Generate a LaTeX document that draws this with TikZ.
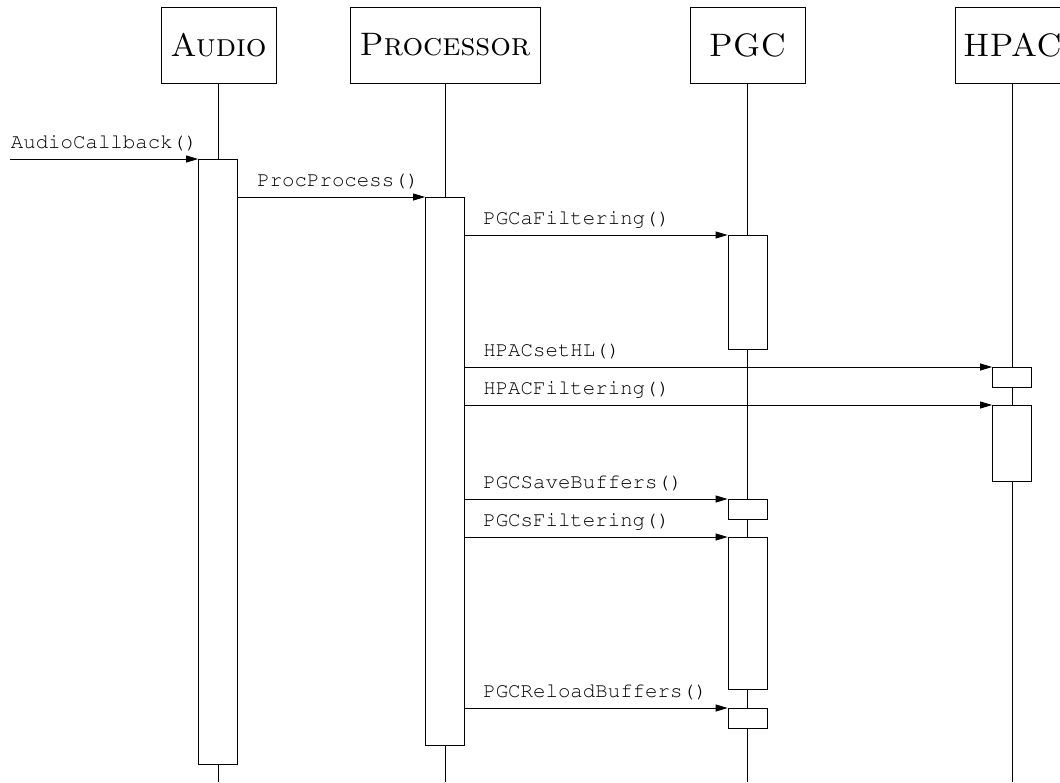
\documentclass[tikz,border=0pt]{standalone}
\usepackage[T1,TU]{fontenc}
\usepackage{fontspec}
\newcommand{\msgfont}{\fontencoding{T1}\fontfamily{pcr}\selectfont}
\usetikzlibrary{arrows.meta}
\begin{document}
\begin{tikzpicture}[x=1pt,y=-1pt,
  actor/.style={draw,line width=0.8pt,minimum width=115pt,minimum height=76pt,
    inner sep=0pt,font=\fontsize{32.5}{39}\selectfont\scshape},
  life/.style={line width=0.8pt},
  activation/.style={draw,fill=white,line width=0.8pt,minimum width=39pt,
    inner sep=0pt,anchor=north},
  msg/.style={line width=0.8pt,-{Triangle[length=12pt,width=7pt]}},
  msglabel/.style={anchor=base west,inner sep=0pt,
    font=\msgfont\fontsize{20.75}{24}\selectfont}]
\useasboundingbox (0,0) rectangle (1060,782);

% participants
\node[actor] (audio) at (218.5,45) {Audio};
\node[actor,minimum width=190pt] (proc) at (445,45) {Processor};
\node[actor] (pgc) at (747.5,45) {PGC};
\node[actor] (hpac) at (1012.5,45) {HPAC};

% lifelines
\coordinate (audioend) at (218,782);
\coordinate (procend) at (445,782);
\coordinate (pgcend) at (747.5,782);
\coordinate (hpacend) at (1012,782);
\draw[life] (audio.south -| audioend) -- (audioend);
\draw[life] (proc.south -| procend) -- (procend);
\draw[life] (pgc.south -| pgcend) -- (pgcend);
\draw[life] (hpac.south -| hpacend) -- (hpacend);

% activations
\node[activation,minimum height=605pt] (audioact) at (218,159) {};
\node[activation,minimum height=548pt] (procact) at (445,197) {};
\node[activation,minimum height=114pt] (pgcA) at (747.5,235) {};
\node[activation,minimum height=20pt] (hpacA) at (1012,367) {};
\node[activation,minimum height=76pt] (hpacB) at (1012,405) {};
\node[activation,minimum height=20pt] (pgcB) at (747.5,499) {};
\node[activation,minimum height=152pt] (pgcC) at (747.5,537) {};
\node[activation,minimum height=20pt] (pgcD) at (747.5,708) {};

% messages
\coordinate (caller) at (10,159);
\draw[msg] (caller) -- (audioact.north west)
  node[msglabel,pos=0,xshift=0.5pt,yshift=11pt] {AudioCallback()};
\draw[msg] (audioact.east |- procact.north) -- (procact.north west)
  node[msglabel,pos=0,xshift=19pt,yshift=10.5pt] {ProcProcess()};
\draw[msg] (procact.east |- pgcA.north) -- (pgcA.north west)
  node[msglabel,pos=0,xshift=18pt,yshift=10.5pt] {PGCaFiltering()};
\draw[msg] (procact.east |- hpacA.north) -- (hpacA.north west)
  node[msglabel,pos=0,xshift=18pt,yshift=10.5pt] {HPACsetHL()};
\draw[msg] (procact.east |- hpacB.north) -- (hpacB.north west)
  node[msglabel,pos=0,xshift=18pt,yshift=10.5pt] {HPACFiltering()};
\draw[msg] (procact.east |- pgcB.north) -- (pgcB.north west)
  node[msglabel,pos=0,xshift=18pt,yshift=10.5pt] {PGCSaveBuffers()};
\draw[msg] (procact.east |- pgcC.north) -- (pgcC.north west)
  node[msglabel,pos=0,xshift=18pt,yshift=10.5pt] {PGCsFiltering()};
\draw[msg] (procact.east |- pgcD.north) -- (pgcD.north west)
  node[msglabel,pos=0,xshift=18pt,yshift=10.5pt] {PGCReloadBuffers()};
\end{tikzpicture}
\end{document}
